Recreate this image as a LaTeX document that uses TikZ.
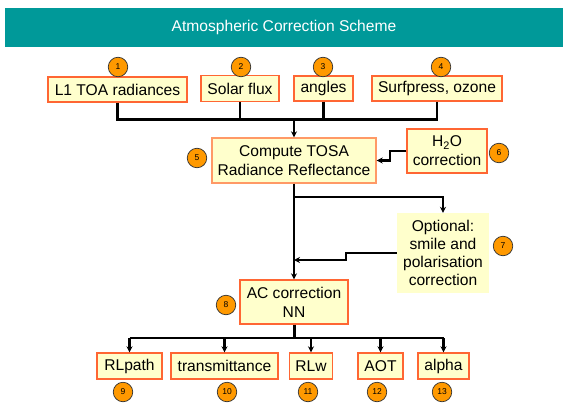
\documentclass[tikz,border=0pt]{standalone}
\usepackage{fontspec}
\setmainfont{Liberation Sans}
\usetikzlibrary{arrows.meta}
\definecolor{teal1}{HTML}{009999}
\definecolor{boxfill}{HTML}{FFFFCC}
\definecolor{boxline}{HTML}{FF6633}
\definecolor{boxline2}{HTML}{FF9966}
\definecolor{circfill}{HTML}{FF9900}
\tikzset{
  box/.style={draw=boxline, line width=1.4pt, fill=boxfill, inner sep=0pt, align=center,
    font=\fontsize{15.6}{19}\selectfont},
  nobox/.style={fill=boxfill, inner sep=0pt, align=center, font=\fontsize{15.6}{18}\selectfont},
  num/.style={circle, draw=black!80, line width=0.7pt, fill=circfill, minimum size=19.5pt, inner sep=0pt,
    font=\fontsize{8.5}{8.5}\selectfont},
  conn/.style={line width=2.1pt, black},
  arr/.style={conn, -{Stealth[length=6pt,width=6pt]}},
}
\begin{document}
\begin{tikzpicture}[x=1pt,y=-1pt]
\useasboundingbox (0,0) rectangle (569,404);
% banner
\node[fill=teal1, minimum width=558pt, minimum height=39pt, inner sep=0pt, text=white,
  font=\fontsize{15.6}{18}\selectfont] (banner) at (284,27.5) {Atmospheric Correction Scheme};
% top boxes
\node[box, minimum width=139pt, minimum height=25pt] (l1) at (117.5,89.5) {L1 TOA radiances};
\node[box, minimum width=78pt, minimum height=26pt] (solar) at (240,88.5) {Solar flux};
\node[box, minimum width=59pt, minimum height=25pt] (angles) at (323.5,88.5) {angles};
\node[box, minimum width=130pt, minimum height=25pt] (surf) at (437,88.5) {Surfpress, ozone};
% middle
\node[box, draw=boxline2, minimum width=164pt, minimum height=45pt] (compute) at (294,160.5) {Compute TOSA\\Radiance Reflectance};
\node[box, minimum width=80pt, minimum height=44pt] (h2o) at (447,151) {H\textsubscript{2}O\\correction};
\node[nobox, minimum width=92pt, minimum height=80pt] (opt) at (443,253) {Optional:\\smile and\\polarisation\\correction};
\node[box, minimum width=108pt, minimum height=44pt] (ac) at (294,302) {AC correction\\NN};
% bottom
\node[box, minimum width=65pt, minimum height=26pt] (rlpath) at (129.5,366) {RLpath};
\node[box, minimum width=107pt, minimum height=26pt] (trans) at (224.5,366) {transmittance};
\node[box, minimum width=43pt, minimum height=26pt] (rlw) at (311,366) {RLw};
\node[box, minimum width=45pt, minimum height=26pt] (aot) at (380.5,366) {AOT};
\node[box, minimum width=51pt, minimum height=26pt] (alpha) at (443.5,366) {alpha};
% numbers
\node[num] (c1) at (118,67) {1};
\node[num] (c2) at (241,67) {2};
\node[num] (c3) at (323,67) {3};
\node[num] (c4) at (441,67) {4};
\node[num] (c5) at (197,158) {5};
\node[num] (c6) at (499,153) {6};
\node[num] (c7) at (503,246) {7};
\node[num] (c8) at (226,305) {8};
\node[num] (c9) at (123,392) {9};
\node[num] (c10) at (227,392) {10};
\node[num] (c11) at (308,392) {11};
\node[num] (c12) at (377,392) {12};
\node[num] (c13) at (442,392) {13};
% connectors top
\coordinate (top) at (294,119.5);
\draw[conn] (l1.south) |- (top);
\draw[conn] (surf.south) |- (top);
\draw[conn] (solar.south) -- (solar.south |- top);
\draw[conn] (angles.south) -- (angles.south |- top);
\draw[arr] (top) -- (compute.north);
% h2o
\draw[arr] (h2o.west) -- ++(-16,0) |- (compute.east);
% compute to ac
\coordinate (br) at (294,197);
\coordinate (m) at (294,260);
\draw[arr] (compute.south) -- (ac.north);
\draw[arr] (br) -| (opt.north);
\draw[arr] (opt.west) -- ++(-51,0) |- (m);
% ac to bottom
\coordinate (bot) at (294,338);
\draw[conn, line width=3pt] (ac.south) -- (bot);
\draw[conn] (rlpath.north |- bot) -- (alpha.north |- bot);
\foreach \n in {rlpath,trans,rlw,aot,alpha}
  \draw[arr] (\n.north |- bot) -- (\n.north);
\end{tikzpicture}
\end{document}
